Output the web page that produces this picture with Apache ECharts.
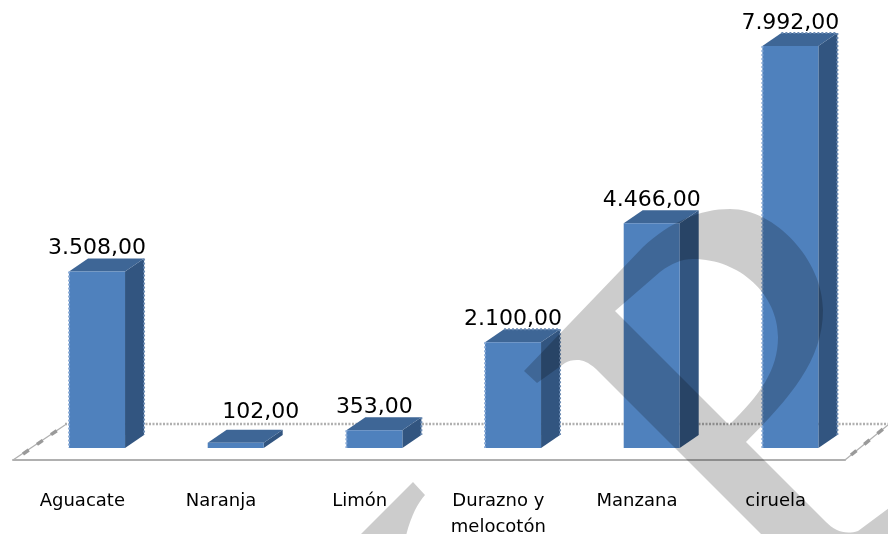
<!DOCTYPE html>
<html>
<head>
<meta charset="utf-8">
<style>html,body{margin:0;padding:0;background:#fff}#c{width:888px;height:534px}</style>
<script src="https://cdn.jsdelivr.net/npm/echarts@6/dist/echarts.min.js"></script>
</head>
<body>
<div id="c"></div>
<script>
const categories = ['Aguacate', 'Naranja', 'Limón', 'Durazno y\nmelocotón', 'Manzana', 'ciruela'];
const values = [3508, 102, 353, 2100, 4466, 7992];

const FONT = '"DejaVu Sans", sans-serif';
const SHIFT_X = 14.7, HALF_W = 28, DEPTH_X = 19, DEPTH_Y = 13;
const FRONT = '#4f81bd', TOP = '#3e6696', SIDE = '#325580';
const EDGE_FRONT = '#8aabd6', EDGE_SIDE = '#6a8ab2';
const roughEdges = [true, false, true, true, false, true];
const roughTop = [false, false, false, true, false, true];
const labelNudge = {1: [25, -8]};

function fmt(v) {
  const s = String(Math.trunc(v));
  return s.replace(/\B(?=(\d{3})+$)/g, '.') + ',00';
}

const WATERMARK =
  'M524,371 L643,247 C670,222 700,209 730,209 C775,209 823,260 823,310 C823,360 790,398 746,442 ' +
  'L826,522 C835,531 845,535 858,531 L900,500 L900,560 L787,560 L596,369 ' +
  'C588,362 583,360 577,360 C572,360 568,361 565,363 L537,383 Z ' +
  'M615,311 L729,425 C760,395 778,370 778,337 C778,295 740,259 693,259 C682,259 672,263 660,272 Z ' +
  'M413,482 L425,495 C417,504 410,518 405,540 L355,540 Z';

function renderFloor(params, api) {
  const cs = params.coordSys;
  const yFront = cs.y + cs.height + 12, yBack = cs.y + cs.height - 24;
  const xL = cs.x, xR = cs.x + cs.width;
  const dx = 52;
  const thin = {stroke: '#b0b0b0', lineWidth: 1.3, fill: null};
  const blob = {stroke: '#9a9a9a', lineWidth: 3.5, lineDash: [7, 10], fill: null};
  const zig = {stroke: '#b0b0b0', lineWidth: 2.5, lineDash: [2, 1.5], fill: null};
  const seg = (x1, y1, x2, y2, style) => ({type: 'line', shape: {x1, y1, x2, y2}, style});
  return {type: 'group', children: [
    seg(xL, yFront, xL + dx, yBack + 1, thin),
    seg(xL + 10, yFront - 6, xL + dx, yBack + 1, blob),
    seg(xR, yFront, xR + 43, yBack + 1, thin),
    seg(xR + 6, yFront - 5, xR + 43, yBack + 1, blob),
    seg(xL + dx, yBack, 888, yBack, zig)
  ]};
}

function renderBar(params, api) {
  const i = api.value(0), v = api.value(1);
  const pb = api.coord([i, 0]), pt = api.coord([i, v]);
  const xc = pb[0] + SHIFT_X, y0 = pb[1], yT = pt[1];
  const l = xc - HALF_W, r = xc + HALF_W;
  const nudge = labelNudge[i] || [0, 0];
  const kids = [
    {type: 'polygon', shape: {points: [[r, yT], [r + DEPTH_X, yT - DEPTH_Y], [r + DEPTH_X, y0 - DEPTH_Y], [r, y0]]}, style: {fill: SIDE}},
    {type: 'polygon', shape: {points: [[l, yT], [l + DEPTH_X, yT - DEPTH_Y], [r + DEPTH_X, yT - DEPTH_Y], [r, yT]]}, style: {fill: TOP}},
    {type: 'rect', shape: {x: l, y: yT, width: r - l, height: y0 - yT}, style: {fill: FRONT}}
  ];
  if (roughEdges[i]) {
    const ef = {stroke: EDGE_FRONT, lineWidth: 2, lineDash: [2, 2], fill: null};
    const es = {stroke: EDGE_SIDE, lineWidth: 2, lineDash: [2, 2], fill: null};
    kids.push({type: 'line', shape: {x1: l, y1: yT, x2: l, y2: y0}, style: ef});
    kids.push({type: 'line', shape: {x1: r + DEPTH_X, y1: yT - DEPTH_Y, x2: r + DEPTH_X, y2: y0 - DEPTH_Y}, style: es});
  }
  if (roughTop[i]) {
    const es = {stroke: EDGE_SIDE, lineWidth: 2, lineDash: [2, 2], fill: null};
    kids.push({type: 'line', shape: {x1: l + DEPTH_X, y1: yT - DEPTH_Y, x2: r + DEPTH_X, y2: yT - DEPTH_Y}, style: es});
  }
  kids.push({type: 'text', style: {
    text: fmt(v), x: xc + nudge[0], y: yT - DEPTH_Y + 1 + nudge[1],
    align: 'center', verticalAlign: 'bottom', font: '22px ' + FONT, fill: '#000'
  }});
  return {type: 'group', children: kids};
}

function renderMark() {
  return {type: 'path', shape: {pathData: WATERMARK}, style: {fill: 'rgba(0,0,0,0.2)'}, silent: true};
}

const chart = echarts.init(document.getElementById('c'), null, {renderer: 'canvas'});
chart.setOption({
  animation: false,
  backgroundColor: '#fff',
  grid: {left: 13, width: 832, top: 45.6, height: 402.4, containLabel: false, outerBoundsMode: 'none'},
  xAxis: {
    type: 'category', data: categories, offset: 12,
    axisLine: {onZero: false, lineStyle: {color: '#b0b0b0', width: 2}},
    axisTick: {show: false},
    axisLabel: {color: '#000', fontFamily: FONT, fontSize: 18, lineHeight: 26, margin: 28, interval: 0}
  },
  yAxis: {type: 'value', min: 0, max: 8000, show: false, splitLine: {show: false}},
  series: [
    {type: 'custom', z: 1, data: [[0, 0]], renderItem: renderFloor, silent: true},
    {type: 'custom', z: 2, data: values.map((v, i) => [i, v]), renderItem: renderBar, silent: true, clip: false},
    {type: 'custom', z: 10, data: [[0, 0]], renderItem: renderMark, silent: true, clip: false}
  ]
});
</script>
</body>
</html>
